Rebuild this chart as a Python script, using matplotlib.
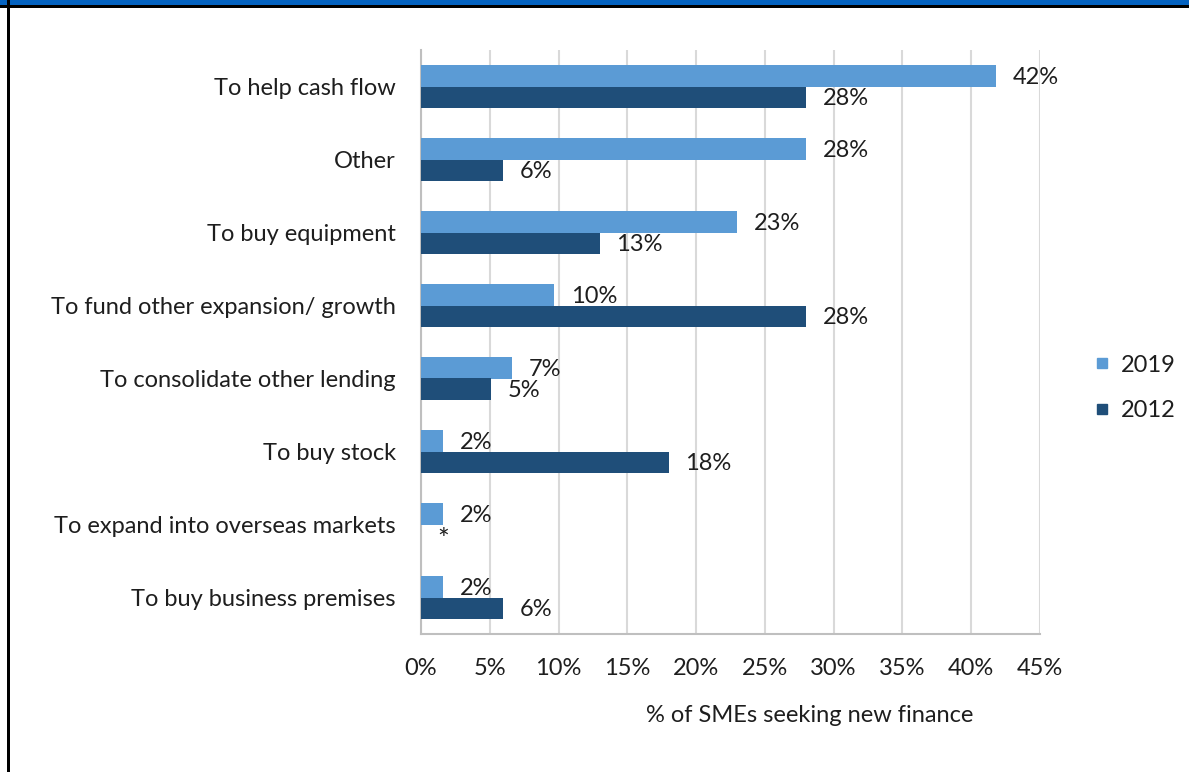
import matplotlib
matplotlib.use("Agg")
import matplotlib.pyplot as plt
from matplotlib.lines import Line2D
import numpy as np

plt.rcParams['font.family'] = ['Lato', 'DejaVu Sans']

categories = ['To help cash flow', 'Other', 'To buy equipment',
              'To fund other expansion/ growth', 'To consolidate other lending',
              'To buy stock', 'To expand into overseas markets',
              'To buy business premises']
vals_2019 = [41.8, 28, 23, 9.7, 6.6, 1.6, 1.6, 1.6]
vals_2012 = [28, 5.95, 13, 28, 5.1, 18, 0, 5.95]
labels_2019 = ['42%', '28%', '23%', '10%', '7%', '2%', '2%', '2%']
labels_2012 = ['28%', '6%', '13%', '28%', '5%', '18%', '*', '6%']
series = ['2019', '2012']
ticks = [0, 5, 10, 15, 20, 25, 30, 35, 40, 45]

c19 = '#5b9bd5'
c12 = '#1f4e79'
txt = '#1e1e1e'
fs = 17

fig = plt.figure(figsize=(11.89, 7.72), dpi=100)
ax = fig.add_axes([421 / 1189, 1 - 634 / 772, 619 / 1189, 584 / 772])

y = np.arange(len(categories))
h = 0.29
ax.barh(y - h / 2, vals_2019, height=h, color=c19, zorder=3)
ax.barh(y + h / 2, vals_2012, height=h, color=c12, zorder=3)

for i in range(len(categories)):
    ax.text(vals_2019[i] + 1.2, y[i] - h / 2 + 0.02, labels_2019[i],
            va='center', ha='left', fontsize=fs, color=txt)
    if labels_2012[i] == '*':
        ax.text(1.65, y[i] + h / 2 + 0.08, '*', va='center', ha='center',
                fontsize=fs + 3, color=txt)
    else:
        ax.text(vals_2012[i] + 1.2, y[i] + h / 2 + 0.02, labels_2012[i],
                va='center', ha='left', fontsize=fs, color=txt)

ax.set_xlim(0, 45)
ax.set_ylim(len(categories) - 0.5, -0.5)
ax.set_xticks(ticks)
ax.set_xticklabels([f'{t}%' for t in ticks], fontsize=fs, color=txt)
ax.set_yticks(y)
ax.set_yticklabels(categories, fontsize=fs, color=txt)
ax.tick_params(axis='both', length=0)
ax.tick_params(axis='x', pad=17)
ax.tick_params(axis='y', pad=18)
ax.grid(axis='x', color='#d9d9d9', linewidth=1.5, zorder=0)
for s in ['top', 'right']:
    ax.spines[s].set_visible(False)
ax.spines['left'].set_color('#bfbfbf')
ax.spines['left'].set_linewidth(1.5)
ax.spines['bottom'].set_color('#bfbfbf')
ax.spines['bottom'].set_linewidth(1.5)

fig.text(810 / 1189, 1 - 716 / 772, '% of SMEs seeking new finance',
         ha='center', va='center', fontsize=fs, color=txt)

handles = [Line2D([0], [0], marker='s', linestyle='', markersize=7.5,
                  color=c, markeredgecolor=c) for c in (c19, c12)]
fig.legend(handles, series, loc='center left',
           bbox_to_anchor=(1094 / 1189, 1 - 388 / 772), frameon=False,
           fontsize=fs, labelspacing=1.05, handlelength=0.7,
           handletextpad=0.45, borderaxespad=0, borderpad=0,
           labelcolor=txt)

# page frame: blue band on top, black rule and left border
fig.add_artist(plt.Rectangle((0, 1 - 5 / 772), 1, 5 / 772,
                             transform=fig.transFigure, color='#0563c1', lw=0))
fig.add_artist(plt.Rectangle((0, 1 - 7.5 / 772), 1, 2.5 / 772,
                             transform=fig.transFigure, color='black', lw=0))
fig.add_artist(plt.Rectangle((7 / 1189, 0), 2.5 / 1189, 1,
                             transform=fig.transFigure, color='black', lw=0))

fig.savefig('out.png', dpi=100)
